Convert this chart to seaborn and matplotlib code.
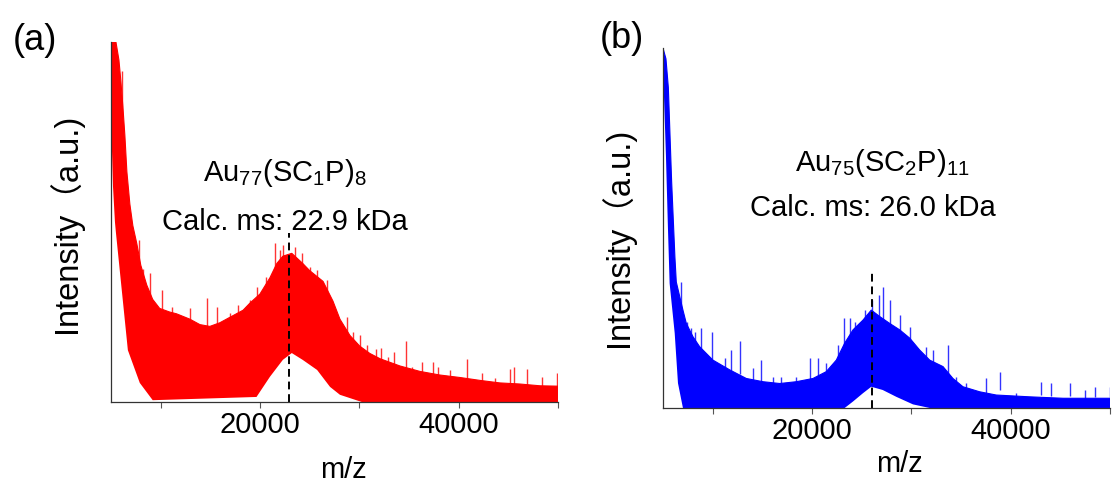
import numpy as np
import matplotlib
matplotlib.use("Agg")
import matplotlib.pyplot as plt
import seaborn as sns
from matplotlib.ticker import FixedLocator, NullFormatter

# ---------------- data (intensity in % of axis height) -------------
# Panel (a): Au77(SC1P)8 -- dense upper edge, lower edge, and protruding spikes
a_up_mz = [5000, 5500, 5800, 6000, 6200, 6400, 6600, 6900, 7200, 7600,
           8000, 8600, 9200, 9900, 10900, 11600, 12950, 13950, 14950, 15950,
           16950, 18300, 19000, 20000, 21000, 21700, 22300, 23200, 24300, 25000,
           26350, 27350, 28050, 29050, 30050, 31050, 32100, 33100, 34100, 36100,
           38100, 40150, 42150, 44150, 46150, 48200, 50000]
a_up = [100, 100, 95, 89, 82, 74, 64, 55, 49, 44,
        38, 32.5, 28.5, 26, 25, 24.5, 23, 21.5, 21, 22,
        23.5, 25.5, 27.5, 30, 34.5, 38.5, 40.5, 41.3, 38.5, 36.5,
        33.5, 28, 23, 18.5, 15.5, 13.5, 12, 11, 10, 8.5,
        7.5, 6.8, 6, 5.3, 5, 4.5, 4.4]
a_lo_mz = [5000, 5200, 5400, 5500, 6200, 6700, 7900, 9200, 19650, 21000,
           22300, 23200, 24300, 25750, 27050, 28050, 30250, 50000]
a_lo = [80, 60, 50, 47, 28, 14.4, 5.3, 0.5, 1.4, 7,
        11.7, 13.6, 11.7, 8.9, 4.2, 2, 0, 0]
a_spike_mz = [6070, 7850, 8260, 8950, 10100, 11100, 12950, 14650, 15650, 17000,
              17800, 19000, 19650, 20650, 21500, 22000, 22350, 23500, 24200, 25000,
              25700, 26700, 27550, 27850, 28800, 29350, 30050, 30750, 31650, 32200,
              32900, 33500, 34650, 35350, 36350, 37450, 37950, 39150, 40850, 42300,
              43650, 45150, 45600, 46850, 48350, 49850]
a_spike = [92, 45, 37, 35.8, 31.1, 26.4, 26.1, 28.9, 26.4, 24.7,
           26.9, 28.3, 32, 34.8, 44.2, 42.2, 43.6, 43.1, 41.3, 37.6,
           36.7, 33.9, 25.1, 23.7, 23.7, 19.5, 18.6, 15.8, 14.7, 15,
           12.5, 13.9, 16.9, 9.7, 11.1, 11.1, 9.7, 8.9, 11.9, 8,
           6.7, 9.2, 9.7, 9.2, 7, 8]
a_calc_mz = 22900
a_dash_top = 47

# Panel (b): Au75(SC2P)11
b_up_mz = [5000, 5300, 5540, 5870, 6200, 6340, 7010, 7350, 8020, 8700,
           10030, 11710, 13390, 15070, 16750, 18420, 20100, 21440, 22450, 23290,
           24130, 25130, 25970, 26820, 27820, 28830, 29840, 30840, 31850, 33190,
           34190, 35200, 36880, 38550, 41920, 45270, 50000]
b_up = [100, 97, 89, 63, 42, 35, 27.2, 23.5, 19.8, 17,
        13.3, 10.6, 8.2, 7.3, 6.8, 7.3, 8.2, 10.1, 13.3, 18,
        21.7, 24.4, 27.2, 25.4, 23.5, 21.7, 19.4, 16.1, 13.3, 11.5,
        8.2, 5.9, 4.5, 3.6, 3.1, 2.7, 2.7]
b_lo_mz = [5000, 5300, 5500, 5670, 6180, 6510, 7010, 23290, 24130, 25130,
           25970, 27120, 28490, 30170, 31850, 50000]
b_lo = [95, 70, 50, 34.6, 20.8, 6.9, 0, 0, 1.8, 4.1,
        5.9, 5, 3.1, 1, 0, 0]
b_spike_mz = [6840, 7420, 7850, 8190, 8860, 9960, 11210, 11880, 12780, 14060,
              14900, 16070, 16910, 18420, 19770, 20600, 21440, 22620, 23190, 23800,
              24300, 25310, 26070, 26710, 27150, 27820, 28890, 29840, 31510, 32180,
              33690, 34530, 35530, 37550, 38900, 40570, 43090, 44090, 45940, 47450,
              48460, 49980]
b_spike = [35.1, 24, 22.1, 21.2, 22.1, 21.2, 13.8, 16.1, 18.7, 11,
           13.3, 8.7, 8.7, 8.7, 13.8, 13.8, 12.4, 17.5, 24.9, 24.9,
           24, 27.2, 30, 31.4, 33.7, 30, 25.8, 22.6, 17, 16.1,
           17.5, 8.7, 6.9, 8.2, 10.1, 4.1, 7.3, 6.9, 6.9, 5,
           5.9, 5.9]
b_calc_mz = 26000
b_dash_top = 37.9

panel_letters = ["(a)", "(b)"]
formulas = [r"$\mathregular{Au_{77}(SC_1P)_8}$", r"$\mathregular{Au_{75}(SC_2P)_{11}}$"]
calc_texts = ["Calc. ms: 22.9 kDa", "Calc. ms: 26.0 kDa"]
colors = ["#FF0000", "#0000FF"]
major_ticks = [20000, 40000]
minor_ticks = [10000, 30000, 50000]
xlabel = "m/z"
ylabel = "Intensity\uff08a.u.)"

# ---------------- style -------------
sns.set_theme(style="ticks")
plt.rcParams["font.family"] = ["Liberation Sans", "Noto Sans CJK SC", "DejaVu Sans"]
plt.rcParams["mathtext.fontset"] = "custom"
plt.rcParams["mathtext.rm"] = "Liberation Sans"
plt.rcParams["mathtext.it"] = "Liberation Sans"
plt.rcParams["text.color"] = "black"
plt.rcParams["axes.labelcolor"] = "black"
plt.rcParams["xtick.labelcolor"] = "black"

fig = plt.figure(figsize=(11.12, 4.83), dpi=100)
axA = fig.add_axes([0.0998, 0.1677, 0.4020, 0.7453])
axB = fig.add_axes([0.5962, 0.1553, 0.4020, 0.7453])

panels = [
    (axA, a_up_mz, a_up, a_lo_mz, a_lo, a_spike_mz, a_spike, a_calc_mz, a_dash_top),
    (axB, b_up_mz, b_up, b_lo_mz, b_lo, b_spike_mz, b_spike, b_calc_mz, b_dash_top),
]

text_pos = [((0.389, 0.636), (0.389, 0.50), (-0.063, 0.497), (0.52, -0.15)),
            ((0.49, 0.68), (0.47, 0.556), (-0.063, 0.475), (0.53, -0.117))]

for i, (ax, umz, uv, lmz, lv, smz, sv, cmz, dtop) in enumerate(panels):
    col = colors[i]
    px = np.r_[np.array(umz, float), np.array(lmz, float)[::-1]]
    py = np.r_[np.array(uv, float), np.array(lv, float)[::-1]]
    ax.fill(px, py, color=col, lw=0, zorder=1)
    sns.lineplot(x=umz, y=uv, ax=ax, color=col, lw=0.8, zorder=2)
    sv = np.array(sv, float)
    ax.vlines(smz, sv * 0.5, sv, color=col, lw=1.0, alpha=0.8, zorder=2)
    ax.vlines([cmz], 0, dtop, colors="black", linestyles=(0, (4, 2.5)), lw=1.4, zorder=4)

    ax.set_xlim(5000, 50000)
    ax.set_ylim(0, 100)
    ax.xaxis.set_major_locator(FixedLocator(major_ticks))
    ax.xaxis.set_minor_locator(FixedLocator(minor_ticks))
    ax.xaxis.set_minor_formatter(NullFormatter())
    ax.set_xticklabels([str(t) for t in major_ticks])
    ax.set_yticks([])
    ax.tick_params(axis="x", which="both", direction="out", length=4, width=0.8,
                   color="#555555", labelsize=21, pad=2.5, bottom=True)
    for s in ["top", "right"]:
        ax.spines[s].set_visible(False)
    for s in ["left", "bottom"]:
        ax.spines[s].set_color("#333333")
        ax.spines[s].set_linewidth(0.9)
        ax.spines[s].set_zorder(5)

    (fx, fy), (cx, cy), (ylx, yly), (xlx, xly) = text_pos[i]
    ax.text(fx, fy, formulas[i], transform=ax.transAxes, ha="center", va="center",
            fontsize=21, color="black", zorder=6)
    ax.text(cx, cy, calc_texts[i], transform=ax.transAxes, ha="center", va="center",
            fontsize=21, color="black", zorder=6)
    ax.set_ylabel(ylabel, fontsize=23.5)
    ax.yaxis.set_label_coords(ylx, yly)
    ax.set_xlabel(xlabel, fontsize=21)
    ax.xaxis.set_label_coords(xlx, xly)
    ax.patch.set_alpha(0)

fig.text(35 / 1112, 1 - 40 / 483, panel_letters[0], ha="center", va="center", fontsize=26)
fig.text(622 / 1112, 1 - 38 / 483, panel_letters[1], ha="center", va="center", fontsize=26)

fig.savefig("out.png", dpi=100)
